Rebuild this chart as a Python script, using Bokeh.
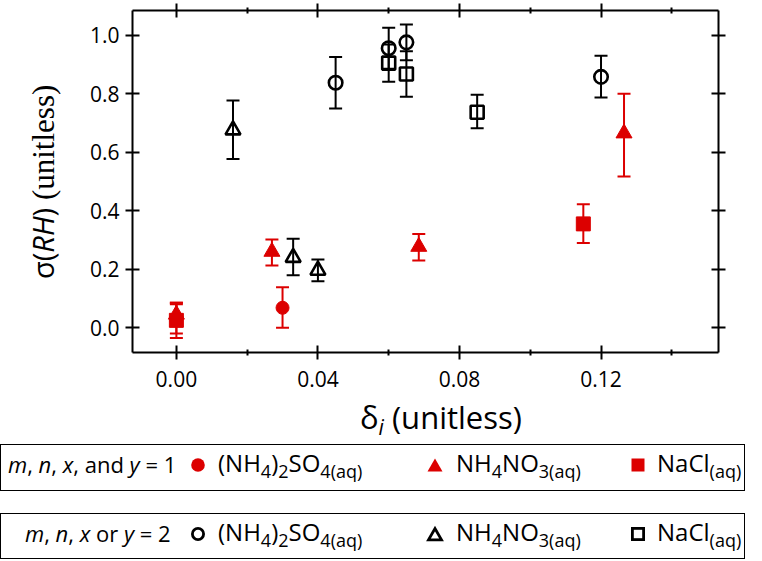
from bokeh.plotting import figure
from bokeh.models import (Range1d, LinearAxis, FixedTicker, NumeralTickFormatter,
                          CustomJSTickFormatter, Whisker, TeeHead, ColumnDataSource, Div)
from bokeh.layouts import column, row
from bokeh.embed import file_html
from bokeh.resources import INLINE

# ---------------- data ----------------
# m, n, x and y = 1  (filled red)
AS1_x = [0.000, 0.030]
AS1_y = [0.030, 0.068]
AS1_lo = [-0.020, 0.000]
AS1_hi = [0.080, 0.138]

AN1_x = [0.000, 0.027, 0.0685, 0.1265]
AN1_y = [0.045, 0.260, 0.277, 0.665]
AN1_lo = [0.005, 0.213, 0.230, 0.517]
AN1_hi = [0.085, 0.302, 0.320, 0.800]

NC1_x = [0.000, 0.115]
NC1_y = [0.025, 0.355]
NC1_lo = [-0.035, 0.290]
NC1_hi = [0.085, 0.422]

# m, n, x or y = 2  (open black)
AS2_x = [0.045, 0.060, 0.065, 0.120]
AS2_y = [0.838, 0.956, 0.976, 0.858]
AS2_lo = [0.750, 0.886, 0.915, 0.787]
AS2_hi = [0.926, 1.026, 1.037, 0.930]

AN2_x = [0.016, 0.033, 0.040]
AN2_y = [0.676, 0.240, 0.196]
AN2_lo = [0.577, 0.179, 0.159]
AN2_hi = [0.777, 0.304, 0.233]

NC2_x = [0.060, 0.065, 0.085]
NC2_y = [0.905, 0.868, 0.737]
NC2_lo = [0.841, 0.790, 0.682]
NC2_hi = [0.969, 0.946, 0.797]

X_MAJOR = [0.00, 0.04, 0.08, 0.12]
X_MINOR = [0.02, 0.06, 0.10, 0.14]
Y_TICKS = [0.0, 0.2, 0.4, 0.6, 0.8, 1.0]

X_TITLE = '\u03b4<span style="font-size:21px;font-style:italic;position:relative;top:6px">i</span> (unitless)'
Y_TITLE = ('\u03c3(<i>RH</i>)<span style="font-family:\'Liberation Serif\';font-size:31px">'
           ' (unitless)</span>')
COND1 = '<i>m</i>, <i>n</i>, <i>x</i>, and <i>y</i> = 1'
COND2 = '<i>m</i>, <i>n</i>, <i>x</i> or <i>y</i> = 2'
# formula pieces: (text, is_subscript)
SPECIES = [
    [("(NH", False), ("4", True), (")", False), ("2", True), ("SO", False), ("4(aq)", True)],
    [("NH", False), ("4", True), ("NO", False), ("3(aq)", True)],
    [("NaCl", False), ("(aq)", True)],
]
MARKERS = ["circle", "triangle", "square"]

RED = "#dc0000"
BLACK = "#000000"
FONT = "Open Sans"

X0, X1 = -0.0124, 0.1532
Y0, Y1 = -0.085, 1.085

TOTAL_W = 746
YDIV_W = 60
FIG_W = TOTAL_W - YDIV_W
FIG_H = 398
BOTTOM_H = 161

p = figure(width=FIG_W, height=FIG_H, x_range=Range1d(X0, X1), y_range=Range1d(Y0, Y1),
           output_backend="svg", toolbar_location=None,
           min_border_left=72, min_border_right=28, min_border_top=10, min_border_bottom=46)
p.xgrid.visible = False
p.ygrid.visible = False
p.outline_line_color = None
p.background_fill_color = "white"
p.border_fill_color = "white"


def style_axis(ax, labels=True, minor=True):
    ax.axis_line_width = 2
    ax.axis_line_color = BLACK
    ax.major_tick_line_width = 2
    ax.major_tick_line_color = BLACK
    ax.major_tick_in = 7
    ax.major_tick_out = 7
    if minor:
        ax.minor_tick_line_width = 2
        ax.minor_tick_line_color = BLACK
        ax.minor_tick_in = 3
        ax.minor_tick_out = 3
    else:
        ax.minor_tick_line_color = None
    if labels:
        ax.major_label_text_font = FONT
        ax.major_label_text_font_size = "21px"
        ax.major_label_text_color = BLACK
    else:
        ax.major_label_text_font_size = "0px"
        ax.major_label_standoff = 0
        ax.formatter = CustomJSTickFormatter(code="return ''")


xb = p.xaxis[0]
xb.ticker = FixedTicker(ticks=X_MAJOR, minor_ticks=X_MINOR)
xb.formatter = NumeralTickFormatter(format="0.00")
style_axis(xb)
xb.major_label_standoff = 11

yl = p.yaxis[0]
yl.ticker = FixedTicker(ticks=Y_TICKS)
yl.formatter = NumeralTickFormatter(format="0.0")
style_axis(yl, minor=False)
yl.major_label_standoff = 6

xt = LinearAxis(ticker=FixedTicker(ticks=X_MAJOR, minor_ticks=X_MINOR))
style_axis(xt, labels=False)
p.add_layout(xt, "above")

yr = LinearAxis(ticker=FixedTicker(ticks=Y_TICKS))
style_axis(yr, labels=False, minor=False)
p.add_layout(yr, "right")


def series(xs, ys, lo, hi, marker, color, filled, size, lw=2.6):
    src = ColumnDataSource(dict(x=xs, y=ys, lo=lo, hi=hi))
    p.add_layout(Whisker(source=src, base="x", upper="hi", lower="lo", dimension="height",
                         line_color=color, line_width=2,
                         upper_head=TeeHead(size=13, line_color=color, line_width=2),
                         lower_head=TeeHead(size=13, line_color=color, line_width=2)))
    if filled:
        p.scatter("x", "y", source=src, marker=marker, size=size,
                  fill_color=color, line_color=color, line_width=1)
    else:
        p.scatter("x", "y", source=src, marker=marker, size=size,
                  fill_color=None, line_color=color, line_width=lw)


series(NC1_x, NC1_y, NC1_lo, NC1_hi, "square", RED, True, 14)
series(AS1_x, AS1_y, AS1_lo, AS1_hi, "circle", RED, True, 13)
series(AN1_x, AN1_y, AN1_lo, AN1_hi, "triangle", RED, True, 16)
series(AS2_x, AS2_y, AS2_lo, AS2_hi, "circle", BLACK, False, 13.5)
series(AN2_x, AN2_y, AN2_lo, AN2_hi, "triangle", BLACK, False, 15)
series(NC2_x, NC2_y, NC2_lo, NC2_hi, "square", BLACK, False, 13)

# ---------------- y-axis title (HTML, rotated) ----------------
ydiv = Div(text=(f'<div style="position:relative;width:{YDIV_W}px;height:{FIG_H}px">'
                 '<div style="position:absolute;left:0;top:279px;transform-origin:0 0;'
                 'transform:rotate(-90deg);white-space:nowrap;line-height:1;padding-top:28px;'
                 f'font-family:\'Open Sans\';font-size:29px;color:#000">{Y_TITLE}</div></div>'),
           width=YDIV_W, height=FIG_H, margin=(0, 0, 0, 0))


# ---------------- x-axis title and legend boxes (one HTML block) ----------------
def formula_html(parts):
    out = []
    for t, sub in parts:
        if sub:
            out.append(f'<span style="font-size:18px;position:relative;top:6px">{t}</span>')
        else:
            out.append(t)
    return "".join(out)


def marker_svg(kind, filled, color, cx, cy):
    if kind == "circle":
        if filled:
            shp = f'<circle cx="9" cy="9" r="6.8" fill="{color}"/>'
        else:
            shp = f'<circle cx="9" cy="9" r="5.6" fill="none" stroke="{color}" stroke-width="2.8"/>'
    elif kind == "triangle":
        if filled:
            shp = f'<polygon points="1.5,15.5 16.5,15.5 9,2.5" fill="{color}"/>'
        else:
            shp = (f'<polygon points="2.5,14.8 15.5,14.8 9,3.5" fill="none" stroke="{color}" '
                   'stroke-width="2.8"/>')
    else:
        if filled:
            shp = f'<rect x="2.5" y="2.5" width="13" height="13" fill="{color}"/>'
        else:
            shp = (f'<rect x="3.4" y="3.4" width="11.2" height="11.2" fill="none" '
                   f'stroke="{color}" stroke-width="2.8"/>')
    return (f'<svg width="18" height="18" viewBox="0 0 18 18" '
            f'style="position:absolute;left:{cx - 9}px;top:{cy - 9}px">{shp}</svg>')


MARK_X = [197, 434, 637]
TEXT_X = [217, 455, 656]


def legend_box(cond, cond_left, filled, top, height):
    color = RED if filled else BLACK
    items = [f'<span style="position:absolute;left:{cond_left}px;top:8px;line-height:1;'
             f'font-size:22px;white-space:nowrap">{cond}</span>']
    for kind, mx, tx, parts in zip(MARKERS, MARK_X, TEXT_X, SPECIES):
        items.append(marker_svg(kind, filled, color, mx, 19.5))
        items.append(f'<span style="position:absolute;left:{tx}px;top:6px;line-height:1;'
                     f'font-size:24px;white-space:nowrap">{formula_html(parts)}</span>')
    return (f'<div style="position:absolute;left:0;top:{top}px;box-sizing:border-box;'
            f'width:{TOTAL_W - 1}px;height:{height}px;border:1.5px solid #000;background:#fff">'
            + "".join(items) + '</div>')


bottom_html = (
    f'<div style="position:relative;width:{TOTAL_W}px;height:{BOTTOM_H}px;'
    'font-family:\'Open Sans\';color:#000">'
    f'<span style="position:absolute;left:{YDIV_W + 300}px;top:4px;line-height:1;'
    f'white-space:nowrap;font-size:31px">{X_TITLE}</span>'
    + legend_box(COND1, 7, True, 46, 47)
    + legend_box(COND2, 24, False, 115, 46)
    + '</div>'
)
bdiv = Div(text=bottom_html, width=TOTAL_W, height=BOTTOM_H, margin=(0, 0, 0, 0))

layout = column(row(ydiv, p, spacing=0), bdiv, spacing=0)
open("out.html", "w").write(file_html(layout, INLINE))
